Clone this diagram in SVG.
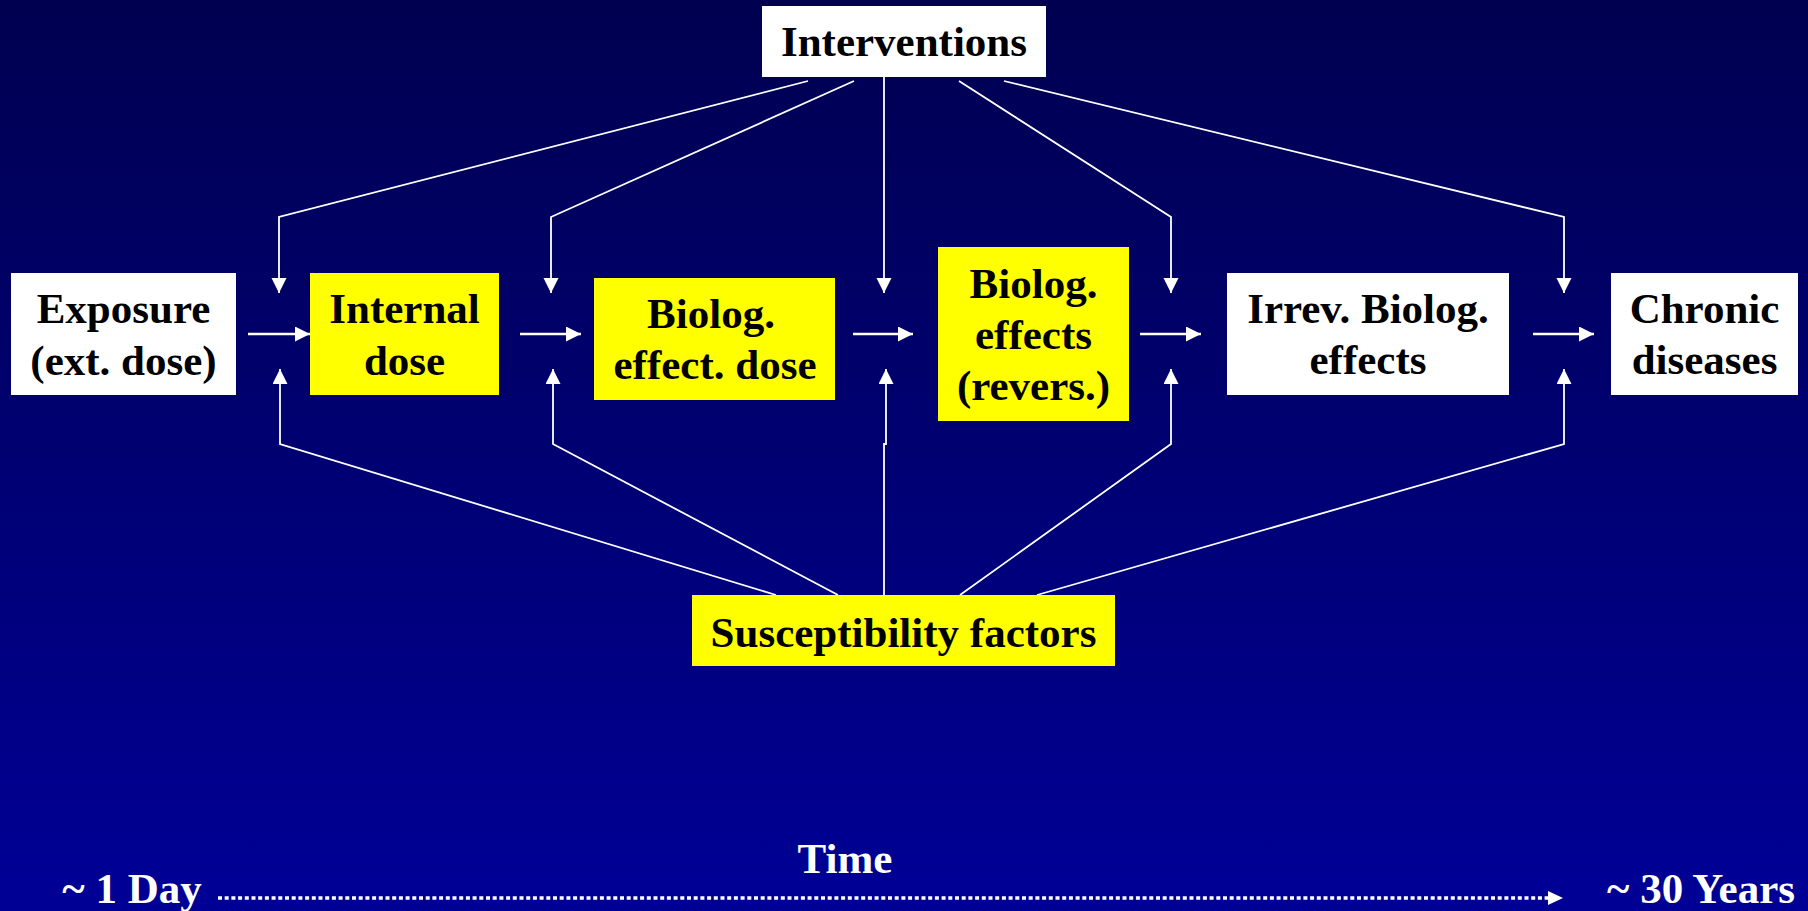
<svg xmlns="http://www.w3.org/2000/svg" width="1808" height="911" viewBox="0 0 1808 911">
<defs>
<linearGradient id="bg" x1="0" y1="0" x2="0" y2="1">
<stop offset="0" stop-color="#000050"/>
<stop offset="0.5" stop-color="#000072"/>
<stop offset="1" stop-color="#000096"/>
</linearGradient>
<marker id="ah" markerUnits="userSpaceOnUse" markerWidth="16" markerHeight="16" refX="15" refY="7.5" orient="auto">
<path d="M0,0 L15,7.5 L0,15 z" fill="#fff"/>
</marker>
<style>
.lbl{font-family:"Liberation Serif","Times New Roman",serif;font-weight:bold;font-size:43px;text-anchor:middle;fill:#000}
.wt{fill:#fff}
.bw{fill:#fff}
.by{fill:#ffff00}
.c{fill:none;stroke:#fff;stroke-width:1.8}
.h{fill:none;stroke:#fff;stroke-width:2.5}
</style>
</defs>
<rect width="1808" height="911" fill="url(#bg)"/>

<g id="connectors">
<line class="h" x1="248" y1="334" x2="310" y2="334" marker-end="url(#ah)"/>
<line class="h" x1="520" y1="334" x2="581" y2="334" marker-end="url(#ah)"/>
<line class="h" x1="853" y1="334" x2="913" y2="334" marker-end="url(#ah)"/>
<line class="h" x1="1140" y1="334" x2="1201" y2="334" marker-end="url(#ah)"/>
<line class="h" x1="1533" y1="334" x2="1594" y2="334" marker-end="url(#ah)"/>
<polyline class="c" points="808,81 279,217 279,293" marker-end="url(#ah)"/>
<polyline class="c" points="854,81 551,217 551,293" marker-end="url(#ah)"/>
<polyline class="c" points="884,77 884,293" marker-end="url(#ah)"/>
<polyline class="c" points="959,81 1171,217 1171,293" marker-end="url(#ah)"/>
<polyline class="c" points="1004,81 1564,217 1564,293" marker-end="url(#ah)"/>
<polyline class="c" points="776,595 280,444 280,369" marker-end="url(#ah)"/>
<polyline class="c" points="838,595 553,444 553,369" marker-end="url(#ah)"/>
<polyline class="c" points="884,595 884,444 886,444 886,369" marker-end="url(#ah)"/>
<polyline class="c" points="960,595 1171,444 1171,369" marker-end="url(#ah)"/>
<polyline class="c" points="1037,595 1564,444 1564,369" marker-end="url(#ah)"/>
<line x1="218" y1="898" x2="1550" y2="898" stroke="#fff" stroke-width="3.5" stroke-dasharray="4 2.7"/>
<path d="M1548,891 L1563,898 L1548,905 z" fill="#fff"/>
</g>

<g id="interventions">
<rect class="bw" x="762" y="6" width="284" height="71"/>
<text class="lbl" x="904" y="56">Interventions</text>
</g>
<g id="exposure">
<rect class="bw" x="11" y="273" width="225" height="122"/>
<text class="lbl" x="123.5" y="323">Exposure</text>
<text class="lbl" x="123.5" y="375">(ext. dose)</text>
</g>
<g id="internal-dose">
<rect class="by" x="310" y="273" width="189" height="122"/>
<text class="lbl" x="404.5" y="323">Internal</text>
<text class="lbl" x="404.5" y="375">dose</text>
</g>
<g id="biolog-effect-dose">
<rect class="by" x="594" y="278" width="241" height="122"/>
<text class="lbl" x="711" y="328">Biolog.</text>
<text class="lbl" x="715" y="379">effect. dose</text>
</g>
<g id="biolog-effects">
<rect class="by" x="938" y="247" width="191" height="174"/>
<text class="lbl" x="1033.5" y="298">Biolog.</text>
<text class="lbl" x="1033.5" y="349">effects</text>
<text class="lbl" x="1033.5" y="400">(revers.)</text>
</g>
<g id="irrev-effects">
<rect class="bw" x="1227" y="273" width="282" height="122"/>
<text class="lbl" x="1368" y="323">Irrev. Biolog.</text>
<text class="lbl" x="1368" y="374">effects</text>
</g>
<g id="chronic-diseases">
<rect class="bw" x="1611" y="273" width="187" height="122"/>
<text class="lbl" x="1704.5" y="323">Chronic</text>
<text class="lbl" x="1704.5" y="374">diseases</text>
</g>
<g id="susceptibility">
<rect class="by" x="692" y="595" width="423" height="71"/>
<text class="lbl" x="903.5" y="647">Susceptibility factors</text>
</g>
<g id="time-labels">
<text class="lbl wt" x="845" y="873">Time</text>
<text class="lbl wt" x="132" y="903">~ 1 Day</text>
<text class="lbl wt" x="1701" y="903">~ 30 Years</text>
</g>
</svg>
